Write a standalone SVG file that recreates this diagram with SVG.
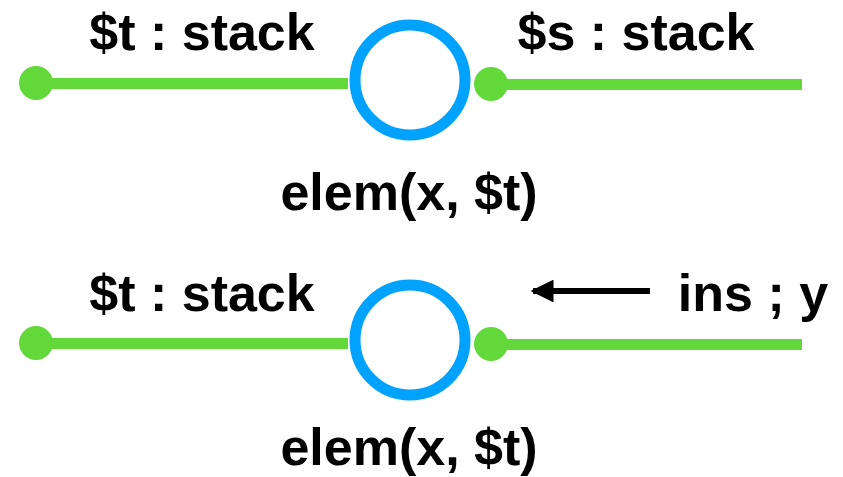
<svg xmlns="http://www.w3.org/2000/svg" width="843" height="477" viewBox="0 0 843 477">
  <defs>
    <style>
      .lbl { font-family: "Liberation Sans", Arial, sans-serif; font-weight: bold; font-size: 52px; fill: #000; }
      .wire { stroke: #62D83A; stroke-width: 11; fill: none; }
      .dot { fill: #62D83A; }
      .node { fill: none; stroke: #00A2FF; stroke-width: 11; }
      .arrow { stroke: #000; stroke-width: 6; fill: none; }
    </style>
    <marker id="ah" viewBox="0 0 10 10" refX="9" refY="5" markerWidth="3.8" markerHeight="3.8" orient="auto" markerUnits="strokeWidth">
      <path d="M0,0 L10,5 L0,10 z" fill="#000"/>
    </marker>
  </defs>
  <rect width="843" height="477" fill="#fff"/>

  <g id="connectors">
    <line class="wire" x1="36" y1="83.5" x2="348" y2="83.5"/>
    <line class="wire" x1="491" y1="84.5" x2="802" y2="84.5"/>
    <line class="wire" x1="36" y1="343.5" x2="348" y2="343.5"/>
    <line class="wire" x1="491" y1="344.5" x2="802" y2="344.5"/>
    <line class="arrow" x1="650" y1="291" x2="533" y2="291" marker-end="url(#ah)"/>
  </g>

  <g id="row1-left-port">
    <circle class="dot" cx="36" cy="83" r="17"/>
    <text class="lbl" x="202" y="50" text-anchor="middle">$t : stack</text>
  </g>
  <g id="row1-node">
    <circle class="node" cx="410" cy="80" r="55"/>
    <text class="lbl" x="409" y="210" text-anchor="middle">elem(x, $t)</text>
  </g>
  <g id="row1-right-port">
    <circle class="dot" cx="491" cy="84" r="17"/>
    <text class="lbl" x="636" y="50" text-anchor="middle">$s : stack</text>
  </g>

  <g id="row2-left-port">
    <circle class="dot" cx="36" cy="343" r="17"/>
    <text class="lbl" x="202" y="311" text-anchor="middle">$t : stack</text>
  </g>
  <g id="row2-node">
    <circle class="node" cx="410" cy="340" r="55"/>
    <text class="lbl" x="409" y="465" text-anchor="middle">elem(x, $t)</text>
  </g>
  <g id="row2-right-port">
    <circle class="dot" cx="491" cy="344" r="17"/>
    <text class="lbl" x="753" y="311" text-anchor="middle">ins ; y</text>
  </g>
</svg>
